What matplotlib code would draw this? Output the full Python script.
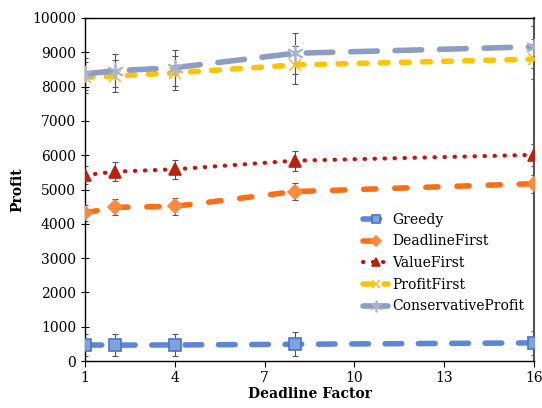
import matplotlib
matplotlib.use('Agg')
from matplotlib import pyplot

x = [1, 2, 4, 8, 16]

greedy = [470, 465, 470, 490, 530]
greedy_err = [320, 320, 330, 350, 360]
deadline_first = [4320, 4480, 4510, 4940, 5170]
deadline_first_err = [230, 230, 240, 250, 260]
value_first = [5420, 5520, 5590, 5840, 6010]
value_first_err = [270, 270, 280, 290, 320]
profit_first = [8270, 8310, 8400, 8630, 8800]
profit_first_err = [450, 470, 500, 560, 580]
conservative = [8370, 8460, 8550, 8970, 9160]
conservative_err = [460, 480, 520, 600, 620]

pyplot.rcParams['font.family'] = ['DejaVu Serif']

fig = pyplot.figure(figsize=(5.42, 4.08), dpi=100)
ax = fig.add_axes([0.157, 0.115, 0.828, 0.841])

series = [
    ('Greedy', greedy, greedy_err, '#5b87d6', 's', '#7fa2dc', '#4a76c4', (0, (3, 3)), 4, 8),
    ('DeadlineFirst', deadline_first, deadline_first_err, '#ff6d14', 'D', '#f98a3f', '#f98a3f', (0, (2.2, 3.4)), 4, 7),
    ('ValueFirst', value_first, value_first_err, '#c0140c', '^', '#b8220f', '#b8220f', (0, (0.1, 2.3)), 3, 9),
    ('ProfitFirst', profit_first, profit_first_err, '#ffc400', 'x', '#f2c230', '#f2c230', (0, (1.4, 2.4)), 4, 9),
    ('ConservativeProfit', conservative, conservative_err, '#8c9cc4', (6, 2, 0), '#a7b3d3', '#a7b3d3', (0, (4.8, 3.2)), 4, 12),
]

for name, vals, err, color, marker, mfc, mec, ls, lw, ms in series:
    ax.errorbar(x, vals, yerr=err, fmt='none', ecolor='#555555', elinewidth=0.8,
                capsize=2, capthick=0.8, zorder=2)
    ax.plot(x, vals, color=color, linestyle=ls, linewidth=lw, dash_capstyle='round',
            marker=marker, markersize=ms, markerfacecolor=mfc, markeredgecolor=mec,
            markeredgewidth=1.2, label=name, zorder=3)

ax.set_xlim(1, 16)
ax.set_ylim(0, 10000)
ax.set_xticks([1, 4, 7, 10, 13, 16])
ax.set_yticks(range(0, 10001, 1000))
ax.tick_params(axis='both', labelsize=10, direction='out', length=4, width=0.8)
ax.tick_params(axis='y', direction='inout', length=6)
for s in ax.spines.values():
    s.set_linewidth(1.0)
ax.spines['right'].set_color('#555555')
ax.spines['right'].set_linewidth(1.5)

ax.set_xlabel('Deadline Factor', fontsize=10, fontweight='bold', labelpad=1)
ax.set_ylabel('Profit', fontsize=10, fontweight='bold', labelpad=6)

leg = ax.legend(loc='upper left', bbox_to_anchor=(0.62, 0.432), frameon=False,
                fontsize=10, handlelength=1.8, handletextpad=0.3, labelspacing=0.55,
                borderpad=0, borderaxespad=0, markerscale=0.7)

fig.savefig('out.png', dpi=100)
